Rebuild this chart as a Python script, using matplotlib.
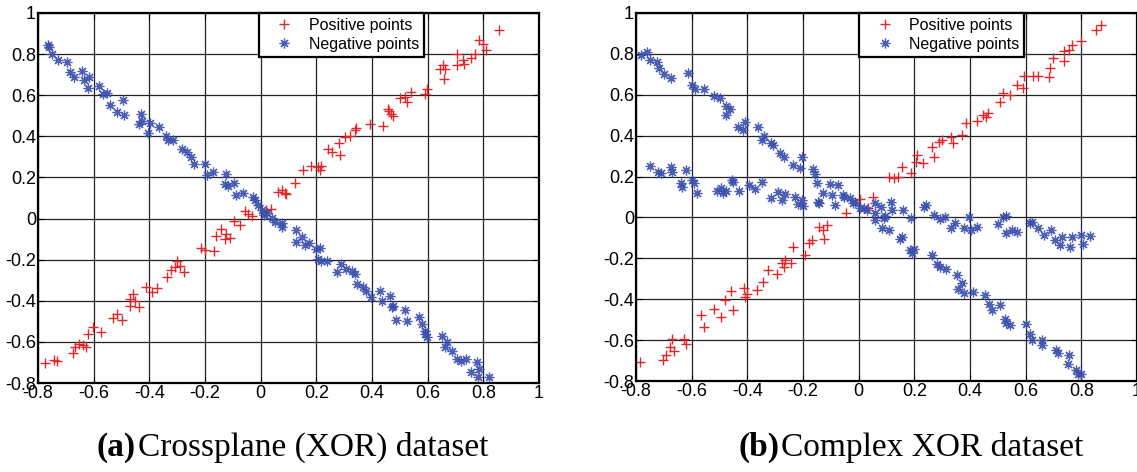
import matplotlib
matplotlib.use("Agg")
import matplotlib.pyplot as plt
import numpy as np

# (a) Crossplane (XOR) dataset
a_pos_x = [-0.774, -0.743, -0.731, -0.675, -0.666, -0.653, -0.639, -0.626, -0.620, -0.602,
           -0.572, -0.530, -0.515, -0.498, -0.470, -0.470, -0.457, -0.450, -0.437, -0.412,
           -0.392, -0.373, -0.337, -0.322, -0.309, -0.299, -0.290, -0.277, -0.216, -0.200,
           -0.167, -0.161, -0.142, -0.126, -0.109, -0.129, -0.097, -0.075, -0.058, -0.045,
           -0.032, 0.019, 0.038, 0.061, 0.077, 0.086, 0.090, 0.122, 0.151, 0.180,
           0.205, 0.218, 0.212, 0.241, 0.257, 0.280, 0.286, 0.302, 0.321, 0.338,
           0.344, 0.392, 0.439, 0.456, 0.469, 0.475, 0.462, 0.501, 0.520, 0.526,
           0.539, 0.591, 0.598, 0.643, 0.656, 0.658, 0.662, 0.704, 0.707, 0.726,
           0.732, 0.756, 0.771, 0.784, 0.799, 0.810, 0.855]
a_pos_y = [-0.705, -0.688, -0.695, -0.654, -0.627, -0.610, -0.617, -0.627, -0.562, -0.526,
           -0.550, -0.485, -0.464, -0.494, -0.391, -0.424, -0.367, -0.399, -0.429, -0.334,
           -0.359, -0.338, -0.286, -0.250, -0.237, -0.205, -0.229, -0.261, -0.143, -0.153,
           -0.156, -0.083, -0.050, -0.075, -0.094, -0.099, -0.010, -0.029, 0.036, 0.023,
           0.010, 0.042, 0.047, 0.131, 0.140, 0.123, 0.120, 0.172, 0.234, 0.258,
           0.250, 0.258, 0.234, 0.339, 0.323, 0.367, 0.307, 0.396, 0.404, 0.429,
           0.440, 0.458, 0.450, 0.534, 0.510, 0.497, 0.523, 0.588, 0.591, 0.567,
           0.615, 0.607, 0.632, 0.729, 0.745, 0.680, 0.729, 0.802, 0.748, 0.769,
           0.753, 0.782, 0.802, 0.867, 0.851, 0.818, 0.916]
a_neg_x = [-0.765, -0.761, -0.749, -0.727, -0.697, -0.686, -0.671, -0.643, -0.634, -0.617,
           -0.620, -0.581, -0.566, -0.551, -0.540, -0.515, -0.491, -0.495, -0.437, -0.430,
           -0.425, -0.405, -0.399, -0.367, -0.341, -0.332, -0.315, -0.281, -0.264, -0.251,
           -0.238, -0.200, -0.193, -0.170, -0.126, -0.129, -0.116, -0.097, -0.090, -0.062,
           -0.026, -0.020, -0.011, 0.006, 0.013, 0.023, 0.041, 0.051, 0.077, 0.077,
           0.128, 0.126, 0.148, 0.160, 0.173, 0.199, 0.212, 0.205, 0.215, 0.237,
           0.276, 0.289, 0.308, 0.328, 0.340, 0.347, 0.366, 0.379, 0.398, 0.427,
           0.437, 0.466, 0.473, 0.475, 0.488, 0.520, 0.526, 0.568, 0.578, 0.589,
           0.598, 0.591, 0.653, 0.662, 0.668, 0.688, 0.704, 0.720, 0.739, 0.778,
           0.784, 0.756, 0.782, 0.820]
a_neg_y = [0.843, 0.834, 0.799, 0.769, 0.761, 0.713, 0.688, 0.718, 0.672, 0.688,
           0.636, 0.643, 0.604, 0.610, 0.550, 0.518, 0.502, 0.575, 0.461, 0.510,
           0.477, 0.416, 0.464, 0.445, 0.404, 0.380, 0.383, 0.339, 0.323, 0.299,
           0.263, 0.263, 0.214, 0.226, 0.218, 0.166, 0.156, 0.172, 0.117, 0.123,
           0.107, 0.088, 0.068, 0.042, 0.015, 0.026, 0.003, -0.018, -0.023, -0.042,
           -0.055, -0.115, -0.091, -0.131, -0.120, -0.148, -0.143, -0.196, -0.208, -0.205,
           -0.261, -0.221, -0.245, -0.253, -0.269, -0.318, -0.331, -0.351, -0.383, -0.351,
           -0.399, -0.378, -0.432, -0.424, -0.494, -0.445, -0.497, -0.481, -0.513, -0.545,
           -0.575, -0.562, -0.570, -0.627, -0.602, -0.643, -0.683, -0.692, -0.683, -0.700,
           -0.732, -0.748, -0.773, -0.769]

# (b) Complex XOR dataset
b_pos_x = [-0.785, -0.704, -0.694, -0.678, -0.669, -0.662, -0.627, -0.621, -0.567, -0.557,
           -0.521, -0.495, -0.480, -0.457, -0.452, -0.412, -0.410, -0.401, -0.365, -0.342,
           -0.324, -0.294, -0.275, -0.265, -0.269, -0.243, -0.237, -0.192, -0.179, -0.166,
           -0.141, -0.128, -0.115, -0.124, -0.045, 0.006, 0.032, 0.051, 0.109, 0.128,
           0.141, 0.154, 0.188, 0.211, 0.205, 0.230, 0.269, 0.265, 0.288, 0.301,
           0.333, 0.340, 0.371, 0.384, 0.426, 0.448, 0.457, 0.465, 0.506, 0.518,
           0.544, 0.570, 0.589, 0.593, 0.627, 0.646, 0.685, 0.688, 0.698, 0.736,
           0.739, 0.755, 0.768, 0.800, 0.851, 0.870]
b_pos_y = [-0.707, -0.699, -0.675, -0.634, -0.593, -0.654, -0.593, -0.618, -0.479, -0.536,
           -0.446, -0.487, -0.405, -0.359, -0.451, -0.343, -0.389, -0.373, -0.356, -0.315,
           -0.258, -0.279, -0.225, -0.206, -0.242, -0.222, -0.147, -0.185, -0.127, -0.111,
           -0.046, -0.062, -0.038, -0.103, 0.023, 0.088, 0.044, 0.101, 0.199, 0.191,
           0.199, 0.248, 0.219, 0.306, 0.273, 0.265, 0.297, 0.346, 0.371, 0.379,
           0.395, 0.363, 0.404, 0.464, 0.474, 0.502, 0.490, 0.510, 0.567, 0.608,
           0.600, 0.649, 0.632, 0.693, 0.693, 0.690, 0.686, 0.730, 0.779, 0.763,
           0.812, 0.820, 0.845, 0.861, 0.918, 0.943]
b_neg_x = [-0.781, -0.762, -0.749, -0.723, -0.717, -0.698, -0.675, -0.614, -0.598, -0.589,
           -0.554, -0.518, -0.499, -0.477, -0.461, -0.477, -0.435, -0.416, -0.410, -0.361,
           -0.339, -0.346, -0.314, -0.307, -0.282, -0.269, -0.237, -0.211, -0.205, -0.163,
           -0.157, -0.150, -0.102, -0.073, -0.058, -0.032, -0.013, 0.006, 0.029, 0.058,
           0.058, 0.090, 0.083, 0.109, 0.147, 0.157, 0.186, 0.198, 0.192, 0.262,
           0.282, 0.294, 0.314, 0.352, 0.371, 0.358, 0.378, 0.410, 0.454, 0.467,
           0.480, 0.506, 0.525, 0.531, 0.544, 0.602, 0.614, 0.621, 0.657, 0.659,
           0.710, 0.717, 0.755, 0.752, 0.781, 0.787, 0.800,
           -0.751, -0.721, -0.710, -0.675, -0.672, -0.621, -0.640, -0.634, -0.598, -0.592,
           -0.582, -0.508, -0.493, -0.486, -0.477, -0.454, -0.452, -0.429, -0.393, -0.371,
           -0.349, -0.314, -0.291, -0.275, -0.265, -0.230, -0.218, -0.205, -0.201, -0.147,
           -0.141, -0.128, -0.096, -0.086, -0.051, -0.022, 0.019, 0.058, 0.081, 0.093,
           0.115, 0.119, 0.160, 0.188, 0.234, 0.243, 0.269, 0.294, 0.311, 0.333,
           0.346, 0.378, 0.397, 0.403, 0.426, 0.499, 0.518, 0.531, 0.531, 0.550,
           0.570, 0.614, 0.621, 0.646, 0.666, 0.691, 0.704, 0.723, 0.730, 0.759,
           0.768, 0.800, 0.806, 0.832]
b_neg_y = [0.796, 0.807, 0.768, 0.758, 0.730, 0.703, 0.681, 0.706, 0.649, 0.627,
           0.627, 0.592, 0.583, 0.546, 0.529, 0.502, 0.441, 0.428, 0.469, 0.441,
           0.399, 0.379, 0.363, 0.355, 0.317, 0.297, 0.257, 0.240, 0.297, 0.235,
           0.212, 0.167, 0.163, 0.158, 0.110, 0.093, 0.077, 0.044, 0.036, 0.020,
           -0.013, -0.005, -0.054, -0.062, -0.103, -0.095, -0.160, -0.152, -0.176, -0.185,
           -0.229, -0.242, -0.250, -0.283, -0.320, -0.348, -0.369, -0.364, -0.381, -0.422,
           -0.454, -0.430, -0.495, -0.516, -0.528, -0.520, -0.569, -0.598, -0.601, -0.626,
           -0.650, -0.663, -0.675, -0.716, -0.748, -0.765, -0.768,
           0.252, 0.224, 0.216, 0.248, 0.224, 0.232, 0.167, 0.150, 0.183, 0.170,
           0.121, 0.131, 0.142, 0.121, 0.131, 0.183, 0.175, 0.131, 0.158, 0.137,
           0.175, 0.093, 0.126, 0.085, 0.114, 0.101, 0.065, 0.085, 0.056, 0.077,
           0.069, 0.118, 0.110, 0.060, 0.098, 0.069, 0.044, 0.072, 0.049, 0.007,
           0.077, 0.036, 0.036, -0.005, 0.052, 0.060, 0.011, -0.010, 0.003, -0.054,
           -0.026, -0.051, 0.000, -0.062, -0.046, -0.033, 0.003, 0.007, -0.078, -0.062,
           -0.070, -0.029, -0.021, -0.054, -0.087, -0.062, -0.111, -0.136, -0.095, -0.144,
           -0.095, -0.087, -0.128, -0.092]

ticks = [-0.8, -0.6, -0.4, -0.2, 0, 0.2, 0.4, 0.6, 0.8, 1]
tick_labels = ["-0.8", "-0.6", "-0.4", "-0.2", "0", "0.2", "0.4", "0.6", "0.8", "1"]

RED = "#e3262b"
BLUE = "#3b4fae"
STAR = (8, 2, 0)

plt.rcParams["font.family"] = ["Liberation Sans", "DejaVu Sans"]

fig = plt.figure(figsize=(11.37, 4.72), dpi=100)
ax_a = fig.add_axes([38 / 1137, 1 - 383 / 472, 501 / 1137, 370 / 472])
ax_b = fig.add_axes([636 / 1137, 1 - 381 / 472, 501 / 1137, 368 / 472])


def draw(ax, px, py, nx, ny, leg_x):
    ax.plot(px, py, linestyle="none", marker="+", color=RED, markersize=7.5,
            markeredgewidth=1.0, label="Positive points")
    ax.plot(nx, ny, linestyle="none", marker=STAR, color=BLUE, markersize=7,
            markeredgewidth=0.9, alpha=0.9, label="Negative points")
    ax.set_xlim(-0.8, 1)
    ax.set_ylim(-0.8, 1)
    ax.set_xticks(ticks)
    ax.set_xticklabels(tick_labels)
    ax.set_yticks(ticks)
    ax.set_yticklabels(tick_labels)
    ax.tick_params(direction="in", length=4, width=0.8, labelsize=13, pad=1.5,
                   top=True, right=True)
    ax.grid(True, color="#222222", linewidth=0.9, linestyle="-")
    for s in ax.spines.values():
        s.set_linewidth(1.6)
    leg = ax.legend(loc="upper left", bbox_to_anchor=(leg_x, 1.0), borderaxespad=0,
                    fontsize=11.5, handlelength=2.6, handletextpad=0.25, borderpad=0.3,
                    labelspacing=0.25, fancybox=False, framealpha=1, numpoints=1)
    leg.get_frame().set_edgecolor("black")
    leg.get_frame().set_linewidth(1.6)


draw(ax_a, a_pos_x, a_pos_y, a_neg_x, a_neg_y, 0.441)
draw(ax_b, b_pos_x, b_pos_y, b_neg_x, b_neg_y, 0.445)

# captions: bold "(a)" followed by normal text
renderer = fig.canvas.get_renderer()
for x0, tag, rest in [(97, "(a)", "Crossplane (XOR) dataset"),
                      (738, "(b)", "Complex XOR dataset")]:
    t = fig.text(x0 / 1137, 1 - 456 / 472, tag, family="Liberation Serif",
                 fontsize=24, fontweight="bold", va="baseline")
    bb = t.get_window_extent(renderer)
    fig.text(bb.x1 / 1137 + 2 / 1137, 1 - 456 / 472, rest, family="Liberation Serif",
             fontsize=24, va="baseline")

fig.savefig("out.png", dpi=100)
